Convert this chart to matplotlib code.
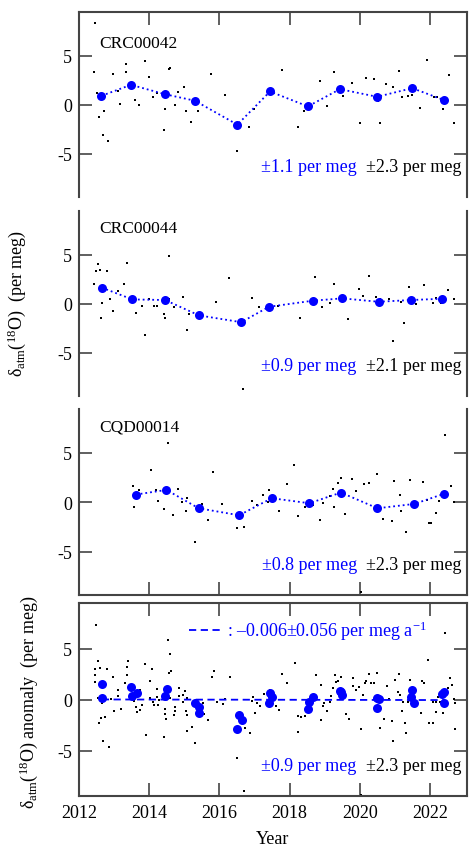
import matplotlib
matplotlib.use("Agg")
import matplotlib.pyplot as plt
import numpy as np

plt.rcParams['font.family'] = ['Liberation Serif', 'DejaVu Serif']
plt.rcParams['mathtext.fontset'] = 'custom'
plt.rcParams['mathtext.rm'] = 'Liberation Serif'
plt.rcParams['mathtext.it'] = 'Liberation Serif:italic'

# ---------------- data ----------------
core_names = ["CRC00042", "CRC00044", "CQD00014"]
sd_means = ["±1.1 per meg", "±0.9 per meg", "±0.8 per meg", "±0.9 per meg"]
sd_points = ["±2.3 per meg", "±2.1 per meg", "±2.3 per meg", "±2.3 per meg"]

p1_pts_x = [2012.45, 2012.44, 2012.51, 2012.56, 2012.67, 2012.72, 2012.84, 2012.96, 2013.10, 2013.17,
            2013.33, 2013.35, 2013.52, 2013.60, 2013.71, 2013.87, 2013.99, 2014.11, 2014.23, 2014.41,
            2014.45, 2014.55, 2014.60, 2014.73, 2014.83, 2014.99, 2015.06, 2015.20, 2015.40, 2015.77,
            2016.15, 2016.49, 2016.85, 2016.99, 2017.77, 2018.23, 2018.42, 2018.87, 2019.06, 2019.26,
            2019.51, 2019.77, 2020.01, 2020.16, 2020.39, 2020.51, 2020.56, 2020.75, 2020.93, 2021.10,
            2021.21, 2021.37, 2021.49, 2021.72, 2021.90, 2022.12, 2022.20, 2022.36, 2022.55, 2022.69]
p1_pts_y = [8.28, 3.38, 1.18, -1.25, -3.04, -0.68, -3.65, 3.18, 1.35, 0.07,
            3.31, 4.16, 2.20, 0.44, -0.07, 4.49, 2.80, 0.74, 1.22, -2.60,
            -0.41, 3.61, 3.75, -0.03, 1.28, 1.76, -0.61, -1.76, -0.61, 3.18,
            0.98, -4.76, -2.30, -0.41, 3.51, -2.23, -0.68, 2.43, -0.17, 3.34,
            0.91, 2.20, -1.89, 2.70, 2.60, 0.34, -1.86, 2.16, 1.76, 3.48,
            0.74, 0.88, 0.95, -0.34, 4.56, 0.78, 0.74, -0.41, 3.04, -1.89]
p1_mean_x = [2012.64, 2013.48, 2014.44, 2015.30, 2016.51, 2017.44, 2018.52, 2019.43, 2020.49, 2021.49, 2022.40]
p1_mean_y = [0.91, 2.03, 1.08, 0.41, -2.03, 1.35, -0.17, 1.59, 0.81, 1.69, 0.47]

p2_pts_x = [2012.44, 2012.48, 2012.53, 2012.59, 2012.63, 2012.65, 2012.80, 2012.89, 2012.96, 2013.10,
            2013.29, 2013.38, 2013.62, 2013.79, 2013.88, 2014.00, 2014.15, 2014.23, 2014.42, 2014.46,
            2014.56, 2014.57, 2014.70, 2014.95, 2015.07, 2015.13, 2015.51, 2015.91, 2016.27, 2016.67,
            2016.93, 2017.14, 2017.67, 2018.30, 2018.73, 2018.92, 2019.14, 2019.27, 2019.66, 2019.96,
            2020.09, 2020.25, 2020.47, 2020.58, 2020.82, 2020.93, 2021.17, 2021.26, 2021.40, 2021.59,
            2021.83, 2022.08, 2022.16, 2022.31, 2022.50, 2022.67]
p2_pts_y = [2.05, 3.38, 4.10, 3.45, -1.50, 0.10, 3.34, 0.44, -0.72, 1.30,
            1.98, 4.20, -0.92, -0.24, -3.14, 0.51, -0.20, -0.24, -1.09, -1.50,
            0.51, 4.88, -0.34, 0.72, -2.70, -1.09, -1.13, 0.17, 2.59, -8.70,
            0.55, -0.34, -0.27, -1.43, 2.76, -0.31, 0.10, 2.01, -1.60, 1.54,
            0.75, 2.87, 0.68, 0.51, 0.44, -3.79, 0.14, -1.98, 1.74, -0.07,
            1.95, 0.07, 0.61, 0.07, 1.43, 0.48]
p2_mean_x = [2012.65, 2013.52, 2014.45, 2015.42, 2016.62, 2017.41, 2018.66, 2019.50, 2020.53, 2021.46, 2022.35]
p2_mean_y = [1.64, 0.44, 0.38, -1.19, -1.88, -0.31, 0.31, 0.55, 0.20, 0.38, 0.51]

p3_pts_x = [2013.53, 2013.58, 2013.70, 2014.06, 2014.19, 2014.26, 2014.42, 2014.53, 2014.68, 2014.82,
            2014.92, 2015.04, 2015.09, 2015.29, 2015.49, 2015.66, 2015.83, 2016.06, 2016.51, 2016.71,
            2016.93, 2017.08, 2017.25, 2017.37, 2017.42, 2017.69, 2017.91, 2018.13, 2018.24, 2018.45,
            2018.67, 2018.87, 2018.95, 2019.16, 2019.23, 2019.27, 2019.37, 2019.46, 2019.58, 2019.78,
            2019.89, 2020.03, 2020.12, 2020.27, 2020.48, 2020.66, 2020.91, 2020.98, 2021.14, 2021.18,
            2021.31, 2021.44, 2021.61, 2021.79, 2021.91, 2021.98, 2022.03, 2022.16, 2022.26, 2022.41,
            2022.60, 2022.69]
p3_pts_y = [1.69, -0.51, 1.22, 3.22, 1.22, 0.17, -0.68, 6.03, -1.25, 1.36,
            0.00, -0.88, 0.47, -4.03, -0.14, -1.80, 3.02, -0.17, -2.61, -2.51,
            0.10, -0.27, 0.78, 0.03, 1.22, -0.85, 1.86, 3.80, -1.39, -0.47,
            -0.31, -1.80, -0.07, 0.61, 1.36, -0.51, 2.00, 2.41, -1.15, 2.31,
            1.19, -9.05, 1.86, 1.90, 2.88, -1.66, -1.90, 2.17, 0.71, -0.85,
            -3.02, 2.24, -0.47, 2.03, 0.24, -2.10, -2.14, -1.05, 0.14, 6.78,
            1.69, 0.00]
p3_mean_x = [2013.62, 2014.49, 2015.41, 2016.56, 2017.49, 2018.56, 2019.46, 2020.50, 2021.55, 2022.39]
p3_mean_y = [0.78, 1.25, -0.61, -1.32, 0.41, -0.10, 0.98, -0.61, -0.17, 0.85]

p4_pts_x = [2012.47, 2012.54, 2012.46, 2012.61, 2012.46, 2012.46, 2012.53, 2012.66, 2012.64, 2012.74,
            2012.58, 2012.69, 2012.86, 2012.81, 2012.92, 2012.98, 2012.99, 2013.12, 2013.12, 2013.20,
            2013.32, 2013.36, 2013.38, 2013.40, 2013.56, 2013.61, 2013.65, 2013.74, 2013.75, 2013.80,
            2013.89, 2013.90, 2014.01, 2014.09, 2014.02, 2014.11, 2014.15, 2014.22, 2014.25, 2014.29,
            2014.21, 2014.45, 2014.46, 2014.48, 2014.43, 2014.54, 2014.59, 2014.57, 2014.63, 2014.60,
            2014.72, 2014.74, 2014.71, 2014.84, 2014.85, 2014.97, 2015.02, 2014.95, 2015.09, 2015.06,
            2015.09, 2015.08, 2015.22, 2015.31, 2015.52, 2015.55, 2015.68, 2015.79, 2015.85, 2015.94,
            2016.10, 2016.17, 2016.30, 2016.51, 2016.69, 2016.73, 2016.87, 2016.95, 2016.93, 2017.02,
            2017.08, 2017.16, 2017.28, 2017.43,
            2017.62, 2017.70, 2017.79, 2017.92, 2018.14, 2018.24, 2018.31, 2018.43, 2018.24, 2018.74,
            2018.88, 2018.89, 2018.95, 2018.97, 2019.07, 2019.15, 2019.18, 2019.24, 2019.28, 2019.31,
            2019.37, 2019.47, 2019.61, 2019.69, 2019.79, 2019.81, 2019.89, 2019.96, 2020.03, 2020.09,
            2020.14, 2020.18, 2020.26, 2020.32, 2020.39, 2020.49, 2020.57, 2020.70, 2020.76, 2020.84,
            2020.91, 2020.95, 2020.99, 2021.12, 2021.08, 2021.15, 2021.20, 2021.22, 2021.28, 2021.31,
            2021.43, 2021.36, 2021.48, 2021.64, 2021.75, 2021.78, 2021.83, 2021.93, 2021.97, 2022.07,
            2022.09, 2022.17, 2022.17, 2022.23, 2022.29, 2022.32, 2022.36, 2022.41, 2022.51, 2022.57,
            2022.61, 2022.68, 2022.70, 2022.71, 2020.03]
p4_pts_y = [7.34, 3.80, 2.99, 3.12, 2.44, 1.69, 0.19, -0.29, -1.79, -1.66,
            -2.24, -3.99, -4.58, 2.99, 0.10, 2.24, -1.07, 0.91, 0.39, -0.88,
            1.62, 2.44, 3.21, 3.80, -0.16, -0.68, -1.23, 0.97, -1.04, -0.52,
            3.51, -3.44, 1.82, 2.99, 0.16, -0.19, -0.49, 1.01, -0.52, -0.06,
            0.29, -0.94, -1.36, -1.85, -3.60, 5.81, 4.51, 2.60, 2.82, 0.13,
            -0.71, -1.07, -1.46, 1.10, 0.39, 0.45, 0.81, -0.23, 0.16, -1.10,
            -1.49, -3.02, -2.69, -4.22, -0.36, -1.40, -2.01, 2.24, 2.76, -0.19,
            -0.42, 0.10, 2.27, -5.68, -8.93, -2.76, -3.25, 0.23, -0.16, -1.33,
            -0.36, -0.62, 0.55, 0.97,
            -0.58, -1.01, 2.56, 1.62, 3.57, -1.56, -1.66, -1.59, -3.12, 2.44,
            -1.98, 1.49, -0.65, -0.32, -1.07, -0.19, 0.39, 1.10, 2.44, 1.69,
            1.79, 2.24, -1.40, -1.92, 2.11, 1.33, 0.94, 1.27, -2.82, 0.45,
            1.59, 1.79, 2.50, 1.66, 1.66, 2.63, -2.79, -1.88, 1.33, 0.10,
            -2.11, -4.06, 1.92, 2.53, 0.75, 0.49, -1.07, -0.19, -2.24, -3.25,
            1.92, -0.23, -0.16, -0.36, -1.30, 1.79, 1.59, 3.86, -2.27, -2.31,
            -0.19, -1.23, -0.23, 0.29, -0.19, 0.45, -1.33, 6.53, 1.10, 2.11,
            1.43, 0.10, -0.29, -2.86, -9.30]
p4_mean_x = [2012.65, 2012.65, 2013.47, 2013.52, 2013.64, 2014.44, 2014.50, 2015.30, 2015.42, 2015.42,
             2016.51, 2016.56, 2016.63, 2017.41, 2017.44, 2017.49, 2018.52, 2018.56, 2018.66, 2019.43,
             2019.46, 2019.50, 2020.49, 2020.50, 2020.53, 2021.46, 2021.49, 2021.55, 2022.35, 2022.39,
             2022.40]
p4_mean_y = [1.52, 0.13, 1.29, 0.40, 0.66, 0.40, 1.09, -0.36, -1.25, -0.69,
             -2.81, -1.49, -1.95, -0.36, 0.69, 0.30, -0.89, -0.20, 0.30, 0.89,
             0.76, 0.50, -0.76, 0.13, 0.07, 0.30, 0.99, -0.33, 0.56, 0.79,
             -0.30]
trend_slope = -0.006
trend_slope_err = 0.056
trend_x = [2012.65, 2022.42]
trend_center = 2017.5
trend_offset = 0.0

x_ticks = [2012, 2014, 2016, 2018, 2020, 2022]
y_ticks = [-5, 0, 5]
y_tick_labels = ["-5", "0", "5"]

# ---------------- figure ----------------
W, H = 469, 854
fig = plt.figure(figsize=(W / 100, H / 100), dpi=100)

def fr(top, bottom):
    return [79 / W, (H - bottom) / H, 388 / W, (bottom - top) / H]

rects = [fr(13, 198), fr(212, 397), fr(410, 596), fr(604, 797)]
axes = [fig.add_axes(r) for r in rects]

SPC = '#444444'
BLUE = '#0000ff'

pts_x = [p1_pts_x, p2_pts_x, p3_pts_x, p4_pts_x]
pts_y = [p1_pts_y, p2_pts_y, p3_pts_y, p4_pts_y]
mean_x = [p1_mean_x, p2_mean_x, p3_mean_x, p4_mean_x]
mean_y = [p1_mean_y, p2_mean_y, p3_mean_y, p4_mean_y]

for i, ax in enumerate(axes):
    ax.set_xlim(2012, 2023.05)
    ax.set_ylim(-9.4, 9.45)
    for s in ax.spines.values():
        s.set_color(SPC)
        s.set_linewidth(1.5)
    ax.plot(pts_x[i], pts_y[i], linestyle='none', marker='s', markersize=1.7,
            color='black', markeredgewidth=0, zorder=2)
    if i < 3:
        ax.plot(mean_x[i], mean_y[i], linestyle=':', color=BLUE, linewidth=1.3,
                marker='o', markersize=6.5, markeredgewidth=0, zorder=3)
        ax.text(0.052, 0.83 if i == 0 else 0.908, core_names[i], transform=ax.transAxes,
                ha='left', va='center', fontsize=12.5)
    else:
        ax.plot(mean_x[i], mean_y[i], linestyle='none', color=BLUE,
                marker='o', markersize=6.5, markeredgewidth=0, zorder=3)
        tx = np.array(trend_x)
        ty = trend_offset + trend_slope * (tx - trend_center)
        ax.plot(tx, ty, linestyle=(0, (4, 2.5)), color=BLUE, linewidth=1.3, zorder=2.5)
        ax.plot([0.284, 0.371], [0.86, 0.86], transform=ax.transAxes,
                linestyle=(0, (4, 2.5)), color=BLUE, linewidth=1.3)
        ax.text(0.381, 0.86, r": –0.006±0.056 per meg a$^{\mathrm{-1}}$", transform=ax.transAxes,
                ha='left', va='center', fontsize=13, color=BLUE)
    ybottom_frac = 30 / (rects[i][3] * H)
    ax.text(0.987, ybottom_frac + 0.0, sd_points[i], transform=ax.transAxes,
            ha='right', va='center', fontsize=13, color='black')
    ax.text(0.716, ybottom_frac + 0.0, sd_means[i], transform=ax.transAxes,
            ha='right', va='center', fontsize=13, color=BLUE)

    ax.set_yticks(y_ticks)
    ax.set_yticklabels(y_tick_labels)
    ax.tick_params(axis='y', direction='in', length=9.5, width=1.2, color=SPC,
                   left=True, right=True, labelsize=13, pad=5)
    ax.set_xticks(x_ticks)
    ax.tick_params(axis='x', direction='in', length=9.5, width=1.2, color=SPC,
                   labelsize=13, pad=6)

# spines / ticks per panel
axes[0].spines['bottom'].set_visible(False)
axes[0].tick_params(axis='x', top=True, bottom=False, labelbottom=False)
axes[1].spines['top'].set_visible(False)
axes[1].spines['bottom'].set_visible(False)
axes[1].tick_params(axis='x', top=False, bottom=False, labelbottom=False)
axes[2].spines['top'].set_visible(False)
axes[2].tick_params(axis='x', top=False, bottom=True, labelbottom=False)
axes[3].tick_params(axis='x', top=True, bottom=True, labelbottom=True)

axes[3].set_xlabel("Year", fontsize=13, labelpad=6)

fig.text(17 / W, 1 - 304 / H, r"$\mathrm{δ}_{\mathrm{atm}}(^{18}\mathrm{O})$  (per meg)",
         rotation=90, ha='center', va='center', fontsize=13)
fig.text(29 / W, 1 - 702 / H, r"$\mathrm{δ}_{\mathrm{atm}}(^{18}\mathrm{O})$ anomaly  (per meg)",
         rotation=90, ha='center', va='center', fontsize=13)

fig.savefig("out.png", dpi=100)
